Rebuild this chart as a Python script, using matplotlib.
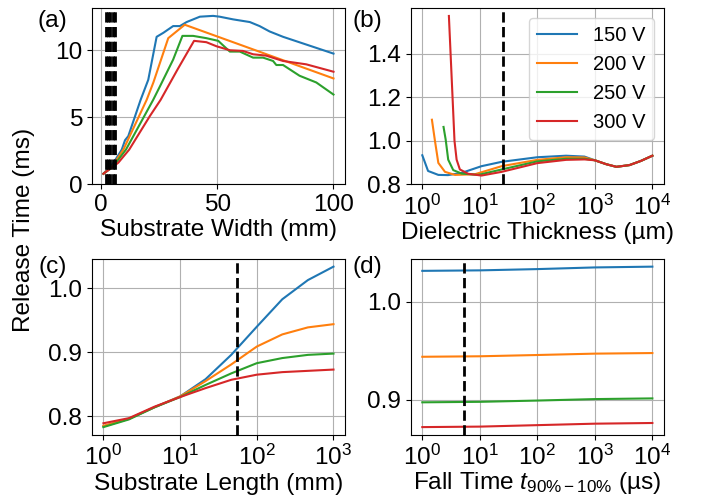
"""Release time sensitivity to substrate / dielectric / fall-time parameters."""

import matplotlib
matplotlib.use("Agg")
import matplotlib.pyplot as plt
from matplotlib.ticker import FixedLocator, NullLocator

plt.rcParams["font.family"] = ["Liberation Sans", "DejaVu Sans"]
plt.rcParams["font.size"] = 17.6
plt.rcParams["mathtext.fontset"] = "custom"
plt.rcParams["mathtext.rm"] = "Liberation Sans"
plt.rcParams["mathtext.it"] = "Liberation Sans:italic"
plt.rcParams["mathtext.bf"] = "Liberation Sans:bold"
plt.rcParams["mathtext.sf"] = "Liberation Sans"

voltages = ["150 V", "200 V", "250 V", "300 V"]
colors = ["tab:blue", "tab:orange", "tab:green", "tab:red"]

# (a) substrate width (mm) -> release time (ms)
width_x = {
    "150 V": [1, 5.3, 8.9, 10.3, 11.7, 17, 20.3, 23.9, 26.8, 31, 33.9, 36.8,
              42.5, 48.2, 51, 56.8, 64, 68.2, 72.5, 78.3, 100],
    "200 V": [1, 5, 9.6, 19.6, 22.5, 28.9, 36, 100],
    "250 V": [1, 5, 10.7, 22.4, 25.3, 31, 35, 39.6, 45.3, 50.4, 55.4, 59.7,
              65.4, 69.7, 74, 75.4, 78.3, 85.4, 92.6, 100],
    "300 V": [1, 7.4, 12.1, 21, 25.6, 33, 40, 45.3, 49.6, 55.4, 61, 65.4, 71,
              78.3, 88.3, 100],
}
width_y = {
    "150 V": [0.8, 1.6, 2.6, 3.3, 3.6, 6.3, 7.8, 11.0, 11.3, 11.8, 11.8, 12.1,
              12.5, 12.56, 12.5, 12.3, 12.1, 11.8, 11.4, 11.0, 9.75],
    "200 V": [0.8, 1.4, 2.6, 6.3, 7.6, 10.9, 11.9, 7.9],
    "250 V": [0.8, 1.3, 2.6, 6.3, 7.3, 9.3, 11.07, 11.07, 10.9, 10.7, 9.9, 9.9,
              9.45, 9.45, 9.2, 8.9, 8.9, 8.1, 7.6, 6.7],
    "300 V": [0.8, 1.62, 2.6, 5.1, 6.3, 8.6, 10.7, 10.6, 10.3, 10.0, 9.95, 9.7,
              9.6, 9.2, 8.95, 8.4],
}
width_marks = [2, 3, 4, 5, 6]

# (b) dielectric thickness (um)
tail_x = [1000, 1580, 2370, 4000, 6300, 10000]
tail_y = [0.911, 0.893, 0.881, 0.889, 0.908, 0.932]
thick_x = {
    "150 V": [1, 1.26, 1.9, 2.8, 4.8, 10.7, 24, 100, 316, 660],
    "200 V": [1.47, 1.66, 1.9, 2.48, 3.7, 8.2, 24, 100, 316, 660],
    "250 V": [2.34, 2.55, 2.82, 3.45, 4.83, 9.4, 24, 100, 316, 660],
    "300 V": [2.9, 3.63, 3.95, 4.5, 6.3, 10.7, 24, 100, 316, 660],
}
thick_y = {
    "150 V": [0.934, 0.862, 0.844, 0.843, 0.853, 0.884, 0.904, 0.925, 0.932, 0.928],
    "200 V": [1.097, 1.0, 0.899, 0.858, 0.844, 0.847, 0.884, 0.913, 0.925, 0.924],
    "250 V": [1.064, 1.006, 0.914, 0.866, 0.85, 0.844, 0.869, 0.906, 0.918, 0.918],
    "300 V": [1.573, 1.0, 0.914, 0.869, 0.849, 0.841, 0.858, 0.898, 0.913, 0.915],
}
thick_mark = 25

# (c) substrate length (mm)
length_x = [1, 2.15, 4.64, 10, 21.5, 46.4, 100, 215, 464, 1000]
length_y = {
    "150 V": [0.784, 0.796, 0.814, 0.831, 0.858, 0.896, 0.940, 0.983, 1.013, 1.034],
    "200 V": [0.785, 0.796, 0.814, 0.831, 0.855, 0.881, 0.909, 0.928, 0.939, 0.944],
    "250 V": [0.783, 0.795, 0.814, 0.830, 0.849, 0.867, 0.883, 0.891, 0.896, 0.898],
    "300 V": [0.789, 0.797, 0.815, 0.830, 0.844, 0.857, 0.865, 0.869, 0.871, 0.873],
}
length_mark = 55

# (d) fall time (us)
fall_x = [1, 10, 100, 1000, 10000]
fall_y = {
    "150 V": [1.0317, 1.0322, 1.0335, 1.0352, 1.0360],
    "200 V": [0.9440, 0.9445, 0.9458, 0.9472, 0.9478],
    "250 V": [0.8975, 0.8980, 0.8993, 0.9008, 0.9015],
    "300 V": [0.8722, 0.8727, 0.8742, 0.8757, 0.8764],
}
fall_mark = 5.3

fig, axes = plt.subplots(2, 2, figsize=(7.07, 4.99), dpi=100)
fig.subplots_adjust(left=0.130, right=0.939, bottom=0.128, top=0.984,
                    wspace=0.26, hspace=0.42)
ax_a, ax_b = axes[0]
ax_c, ax_d = axes[1]

for v, c in zip(voltages, colors):
    ax_a.plot(width_x[v], width_y[v], color=c, label=v)
    ax_b.plot(thick_x[v] + tail_x, thick_y[v] + tail_y, color=c, label=v)
    ax_c.plot(length_x, length_y[v], color=c, label=v)
    ax_d.plot(fall_x, fall_y[v], color=c, label=v)

for xm in width_marks:
    ax_a.axvline(xm, color="k", ls="--", lw=2)
ax_b.axvline(thick_mark, color="k", ls="--", lw=2)
ax_c.axvline(length_mark, color="k", ls="--", lw=2)
ax_d.axvline(fall_mark, color="k", ls="--", lw=2)

ax_a.set_ylim(bottom=0)
ax_a.xaxis.set_major_locator(FixedLocator([0, 50, 100]))
ax_a.yaxis.set_major_locator(FixedLocator([0, 5, 10]))
ax_a.set_xlabel("Substrate Width (mm)", labelpad=2)

ax_b.set_xscale("log")
ax_b.set_ylim(bottom=0.8)
ax_b.yaxis.set_major_locator(FixedLocator([0.8, 1.0, 1.2, 1.4]))
ax_b.set_xlabel("Dielectric Thickness (µm)", labelpad=2)
ax_b.legend(loc="upper right", fontsize=14.5)

ax_c.set_xscale("log")
ax_c.yaxis.set_major_locator(FixedLocator([0.8, 0.9, 1.0]))
ax_c.set_xlabel("Substrate Length (mm)", labelpad=2)

ax_d.set_xscale("log")
ax_d.yaxis.set_major_locator(FixedLocator([0.9, 1.0]))
ax_d.set_xlabel(r"Fall Time $t_{90\%-10\%}$ (µs)", labelpad=0)

for ax in (ax_b, ax_c, ax_d):
    ax.xaxis.set_major_locator(FixedLocator([1, 10, 100, 1000, 10000]))
    ax.xaxis.set_minor_locator(NullLocator())
for ax in axes.flat:
    ax.grid(True)

fig.text(0.034, 0.539, "Release Time (ms)", rotation=90, ha="center", va="center")
fig.text(0.074, 0.958, "(a)", ha="center", va="center")
fig.text(0.519, 0.958, "(b)", ha="center", va="center")
fig.text(0.074, 0.465, "(c)", ha="center", va="center")
fig.text(0.519, 0.465, "(d)", ha="center", va="center")

fig.savefig("out.png", dpi=100)
